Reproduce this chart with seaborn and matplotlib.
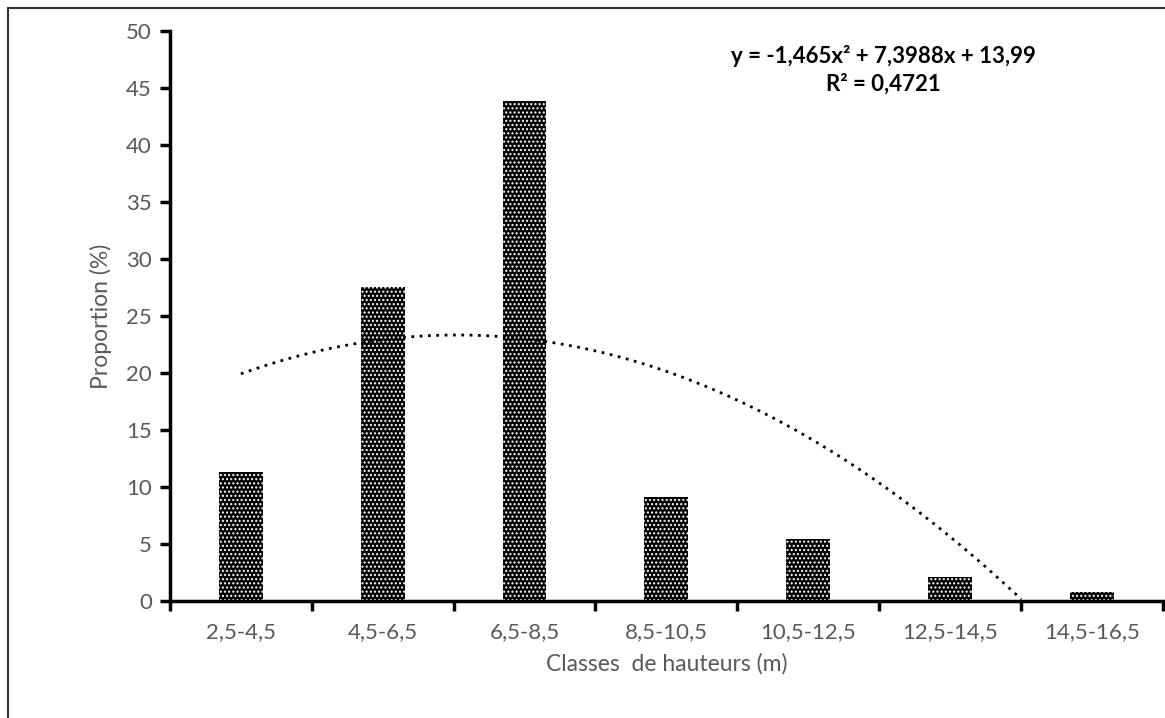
import numpy as np
import pandas as pd
import matplotlib
matplotlib.use("Agg")
import matplotlib.pyplot as plt
from matplotlib.lines import Line2D
import seaborn as sns

# Height classes and their share of stems
classes = ["2,5-4,5", "4,5-6,5", "6,5-8,5", "8,5-10,5", "10,5-12,5", "12,5-14,5", "14,5-16,5"]
proportion = [11.3, 27.5, 43.9, 9.1, 5.4, 2.1, 0.8]

# Polynomial trend (order 2) fitted on the class rank 1..7
coef_a, coef_b, coef_c = -1.465, 7.3988, 13.99
r_squared = 0.4721

y_ticks = [0, 5, 10, 15, 20, 25, 30, 35, 40, 45, 50]

sns.set_theme(style="white")
plt.rcParams["font.family"] = ["Lato", "DejaVu Sans"]
plt.rcParams["hatch.linewidth"] = 1.0

df = pd.DataFrame({"classe": classes, "proportion": proportion})

fig = plt.figure(figsize=(11.65, 7.18), dpi=100)
ax = fig.add_axes([0.1459, 0.1630, 0.8521, 0.7938])

sns.barplot(data=df, x="classe", y="proportion", ax=ax, width=0.31,
            color="black", saturation=1, linewidth=0)
for bar in ax.patches:
    bar.set_facecolor("black")
    bar.set_edgecolor("white")
    bar.set_linewidth(0)
    bar.set_hatch("....")

# Trend curve, drawn down to the x axis
rank = np.linspace(1, 7, 400)
trend = coef_a * rank**2 + coef_b * rank + coef_c
keep = trend >= 0
ax.plot(rank[keep] - 1, trend[keep], linestyle=(0, (1, 2.0)), color="black",
        linewidth=2.0, zorder=3)

ax.set_xlim(-0.5, len(classes) - 0.5)
ax.set_ylim(0, 50)
ax.set_yticks(y_ticks)
ax.set_yticklabels([str(t) for t in y_ticks])

# Tick marks sit at class boundaries, labels at class centres
ax.set_xticks(np.arange(len(classes)))
ax.set_xticklabels(classes)
ax.set_xticks(np.arange(-0.5, len(classes)), minor=True)
ax.tick_params(axis="x", which="major", bottom=True, length=0, pad=15,
               labelsize=16, colors="#595959")
ax.tick_params(axis="x", which="minor", bottom=True, length=7, width=2.5,
               color="black", direction="out")
ax.tick_params(axis="y", which="major", left=True, length=7, width=2.5, color="black",
               direction="out", labelsize=16, labelcolor="#595959", pad=6)

for side in ["top", "right"]:
    ax.spines[side].set_visible(False)
for side in ["left", "bottom"]:
    ax.spines[side].set_color("black")
    ax.spines[side].set_linewidth(2.5)

ax.set_xlabel("Classes  de hauteurs (m)", fontsize=16.5, color="#595959", labelpad=8)
ax.set_ylabel("Proportion (%)", fontsize=16.5, color="#595959", labelpad=10)
ax.grid(False)

ax.text(0.719, 0.957, "y = -1,465x² + 7,3988x + 13,99", transform=ax.transAxes,
        ha="center", va="center", fontsize=16, fontweight="bold", color="black")
ax.text(0.719, 0.907, f"R² = {r_squared:.4f}".replace(".", ","), transform=ax.transAxes,
        ha="center", va="center", fontsize=16, fontweight="bold", color="black")

# Chart frame (top and left edges)
fig.add_artist(Line2D([0.0065, 1.0], [1 - 8 / 718, 1 - 8 / 718], transform=fig.transFigure,
                      color="#333333", linewidth=1.5))
fig.add_artist(Line2D([0.0065, 0.0065], [0.0, 1 - 8 / 718], transform=fig.transFigure,
                      color="#333333", linewidth=1.5))

fig.savefig("out.png", dpi=100, facecolor="white")
